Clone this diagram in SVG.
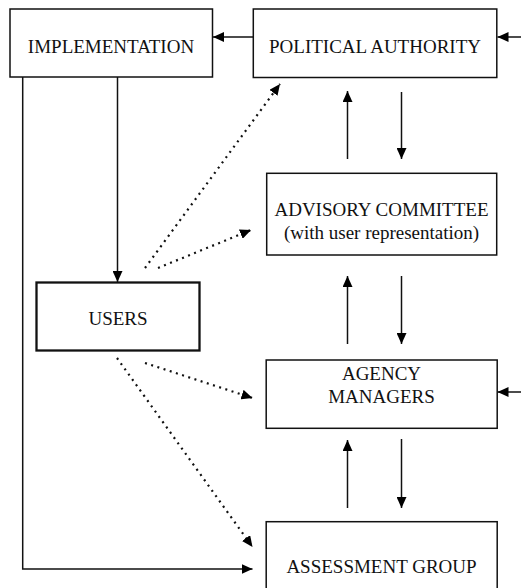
<svg xmlns="http://www.w3.org/2000/svg" width="521" height="588" viewBox="0 0 521 588">
<defs>
<marker id="ah" markerUnits="userSpaceOnUse" markerWidth="12" markerHeight="10" refX="11" refY="5" orient="auto">
<path d="M0,0 L11,5 L0,10 z" fill="#000"/>
</marker>
<style>
.box{fill:#fff;stroke:#111;stroke-width:1.5}
.thick{stroke-width:2.3}
.t{font-family:"Liberation Serif","Times New Roman",serif;font-size:19px;fill:#111;text-anchor:middle}
.ln{fill:none;stroke:#111;stroke-width:1.5}
.dot{fill:none;stroke:#111;stroke-width:2.2;stroke-dasharray:2 4.5}
</style>
</defs>
<rect width="521" height="588" fill="#fff"/>
<g id="connectors">
<line class="ln" x1="253" y1="37" x2="213" y2="37" marker-end="url(#ah)"/>
<line class="ln" x1="521" y1="37" x2="497.5" y2="37" marker-end="url(#ah)"/>
<line class="ln" x1="117.5" y1="77" x2="117.5" y2="282" marker-end="url(#ah)"/>
<polyline class="ln" points="22.7,77 22.7,569 252.5,569" marker-end="url(#ah)"/>
<line class="ln" x1="347.5" y1="159" x2="347.5" y2="91" marker-end="url(#ah)"/>
<line class="ln" x1="401.5" y1="92" x2="401.5" y2="159" marker-end="url(#ah)"/>
<line class="ln" x1="347.5" y1="344" x2="347.5" y2="276" marker-end="url(#ah)"/>
<line class="ln" x1="401.5" y1="276" x2="401.5" y2="344" marker-end="url(#ah)"/>
<line class="ln" x1="347.5" y1="508" x2="347.5" y2="440" marker-end="url(#ah)"/>
<line class="ln" x1="401.5" y1="439" x2="401.5" y2="508" marker-end="url(#ah)"/>
<line class="ln" x1="521" y1="392" x2="497.5" y2="392" marker-end="url(#ah)"/>
<line class="dot" x1="145" y1="268" x2="280" y2="84" marker-end="url(#ah)"/>
<line class="dot" x1="158" y1="268" x2="251" y2="230" marker-end="url(#ah)"/>
<line class="dot" x1="145" y1="363" x2="252.5" y2="398" marker-end="url(#ah)"/>
<line class="dot" x1="117" y1="358" x2="252.5" y2="547" marker-end="url(#ah)"/>
</g>
<g id="implementation">
<rect class="box" x="10" y="9" width="202.5" height="68"/>
<text class="t" x="111" y="53">IMPLEMENTATION</text>
</g>
<g id="political-authority">
<rect class="box" x="253.3" y="9" width="243.5" height="68.5"/>
<text class="t" x="375" y="53">POLITICAL AUTHORITY</text>
</g>
<g id="advisory-committee">
<rect class="box" x="266.7" y="173.3" width="230" height="81.7"/>
<text class="t" x="381.5" y="216">ADVISORY COMMITTEE</text>
<text class="t" x="381.5" y="239">(with user representation)</text>
</g>
<g id="users">
<rect class="box thick" x="36.5" y="282.5" width="163" height="68"/>
<text class="t" x="118" y="325">USERS</text>
</g>
<g id="agency-managers">
<rect class="box" x="266.2" y="360" width="231" height="68.3"/>
<text class="t" x="381.5" y="380">AGENCY</text>
<text class="t" x="381.5" y="403">MANAGERS</text>
</g>
<g id="assessment-group">
<rect class="box" x="266.2" y="521.7" width="231" height="80"/>
<text class="t" x="381.5" y="573">ASSESSMENT GROUP</text>
</g>
</svg>
